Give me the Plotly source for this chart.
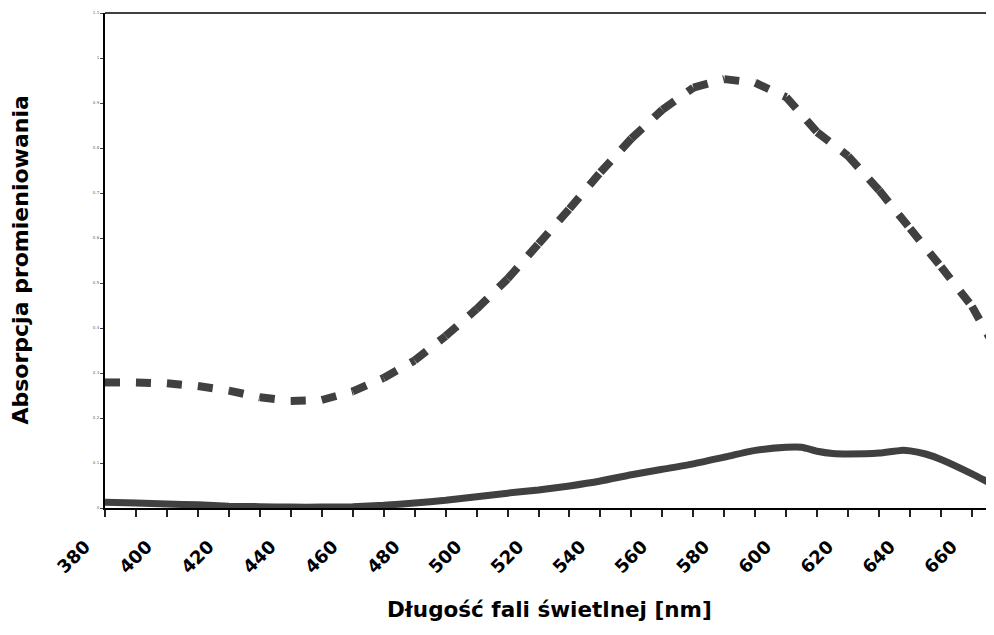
import plotly.graph_objects as go

# ---- data ----
wl_dashed = [380, 390, 400, 410, 420, 430, 440, 450, 460, 470, 480, 490, 500, 510,
             520, 530, 540, 550, 560, 570, 580, 590, 600, 610, 620, 630, 640, 650,
             660, 667]
abs_dashed = [0.279, 0.279, 0.277, 0.271, 0.261, 0.246, 0.238, 0.240, 0.259, 0.289,
              0.328, 0.382, 0.442, 0.509, 0.587, 0.665, 0.746, 0.821, 0.885, 0.934,
              0.953, 0.945, 0.913, 0.835, 0.782, 0.706, 0.621, 0.536, 0.448, 0.362]

wl_solid = [380, 390, 400, 410, 420, 430, 440, 450, 460, 470, 480, 490, 500, 510,
            520, 530, 540, 550, 560, 570, 580, 590, 600, 605, 610, 615, 620, 630,
            637, 640, 645, 650, 660, 667]
abs_solid = [0.013, 0.011, 0.009, 0.007, 0.004, 0.003, 0.002, 0.002, 0.003, 0.006,
             0.011, 0.017, 0.025, 0.033, 0.040, 0.049, 0.060, 0.074, 0.086, 0.098,
             0.113, 0.128, 0.135, 0.135, 0.126, 0.121, 0.120, 0.122, 0.128, 0.127,
             0.120, 0.108, 0.076, 0.051]

x_tick_vals = list(range(380, 661, 10))
x_tick_text = ["<b>%d</b>" % v if v % 20 == 0 else "" for v in x_tick_vals]

x_title = "Długość fali świetlnej [nm]"
y_title = "Absorpcja promieniowania"

LINE_COLOR = "#404040"
FONT = "DejaVu Sans, Liberation Sans, Arial, sans-serif"

# dashed series drawn segment by segment so the dash pattern restarts at every point
seg_x, seg_y = [], []
for i in range(len(wl_dashed) - 1):
    seg_x += [wl_dashed[i], wl_dashed[i + 1], None]
    seg_y += [abs_dashed[i], abs_dashed[i + 1], None]

fig = go.Figure()
fig.add_trace(go.Scatter(
    x=seg_x, y=seg_y, mode="lines", connectgaps=False,
    line=dict(color=LINE_COLOR, width=8, dash="15px,16px"),
    hoverinfo="skip", showlegend=False,
))
fig.add_trace(go.Scatter(
    x=wl_solid, y=abs_solid, mode="lines",
    line=dict(color=LINE_COLOR, width=7, shape="spline", smoothing=0.5),
    showlegend=False,
))

x_range = [380, 667.1]

# page body has an 8px margin: figure sized so nothing scrolls and the plot
# area lands at x 105..994, y 13..508 in the window
fig.update_layout(
    width=986, height=619,
    margin=dict(l=97, r=0, t=5, b=119),
    paper_bgcolor="white", plot_bgcolor="white",
    font=dict(family=FONT, color="black"),
    xaxis=dict(
        range=x_range, tickmode="array", tickvals=x_tick_vals, ticktext=x_tick_text,
        tickangle=-45, ticks="outside", ticklen=7, tickwidth=1.5, tickcolor="#222",
        tickfont=dict(size=18, family=FONT, color="black"),
        ticklabelshift=-20, ticklabelstandoff=12,
        showline=True, linecolor="black", linewidth=2, automargin=False,
        mirror=False, showgrid=False, zeroline=False,
    ),
    xaxis2=dict(
        range=x_range, overlaying="x", anchor="y", side="bottom",
        tickmode="array", tickvals=x_tick_vals, ticktext=[""] * len(x_tick_vals),
        ticks="inside", ticklen=7, tickwidth=1.5, tickcolor="#222", automargin=False,
        showline=False, showgrid=False, zeroline=False,
    ),
    yaxis=dict(
        range=[0, 1.1], dtick=0.1, ticks="outside", ticklen=3, tickwidth=1,
        tickcolor="#444", tickfont=dict(size=4, color="#666"), automargin=False,
        showline=True, linecolor="black", linewidth=2,
        showgrid=False, zeroline=False,
    ),
    shapes=[dict(type="line", xref="paper", yref="paper", x0=0, x1=1, y0=1, y1=1,
                 line=dict(color="#404040", width=2))],
    annotations=[
        dict(text="<b>%s</b>" % x_title, xref="paper", yref="paper",
             x=0.5, y=-0.206, xanchor="center", yanchor="middle", showarrow=False,
             font=dict(size=21.5, color="black", family=FONT)),
        dict(text="<b>%s</b>" % y_title, xref="paper", yref="paper",
             x=-0.0956, y=0.5, xanchor="center", yanchor="middle", textangle=-90,
             showarrow=False, font=dict(size=22, color="black", family=FONT)),
    ],
)

fig.write_html("out.html")
